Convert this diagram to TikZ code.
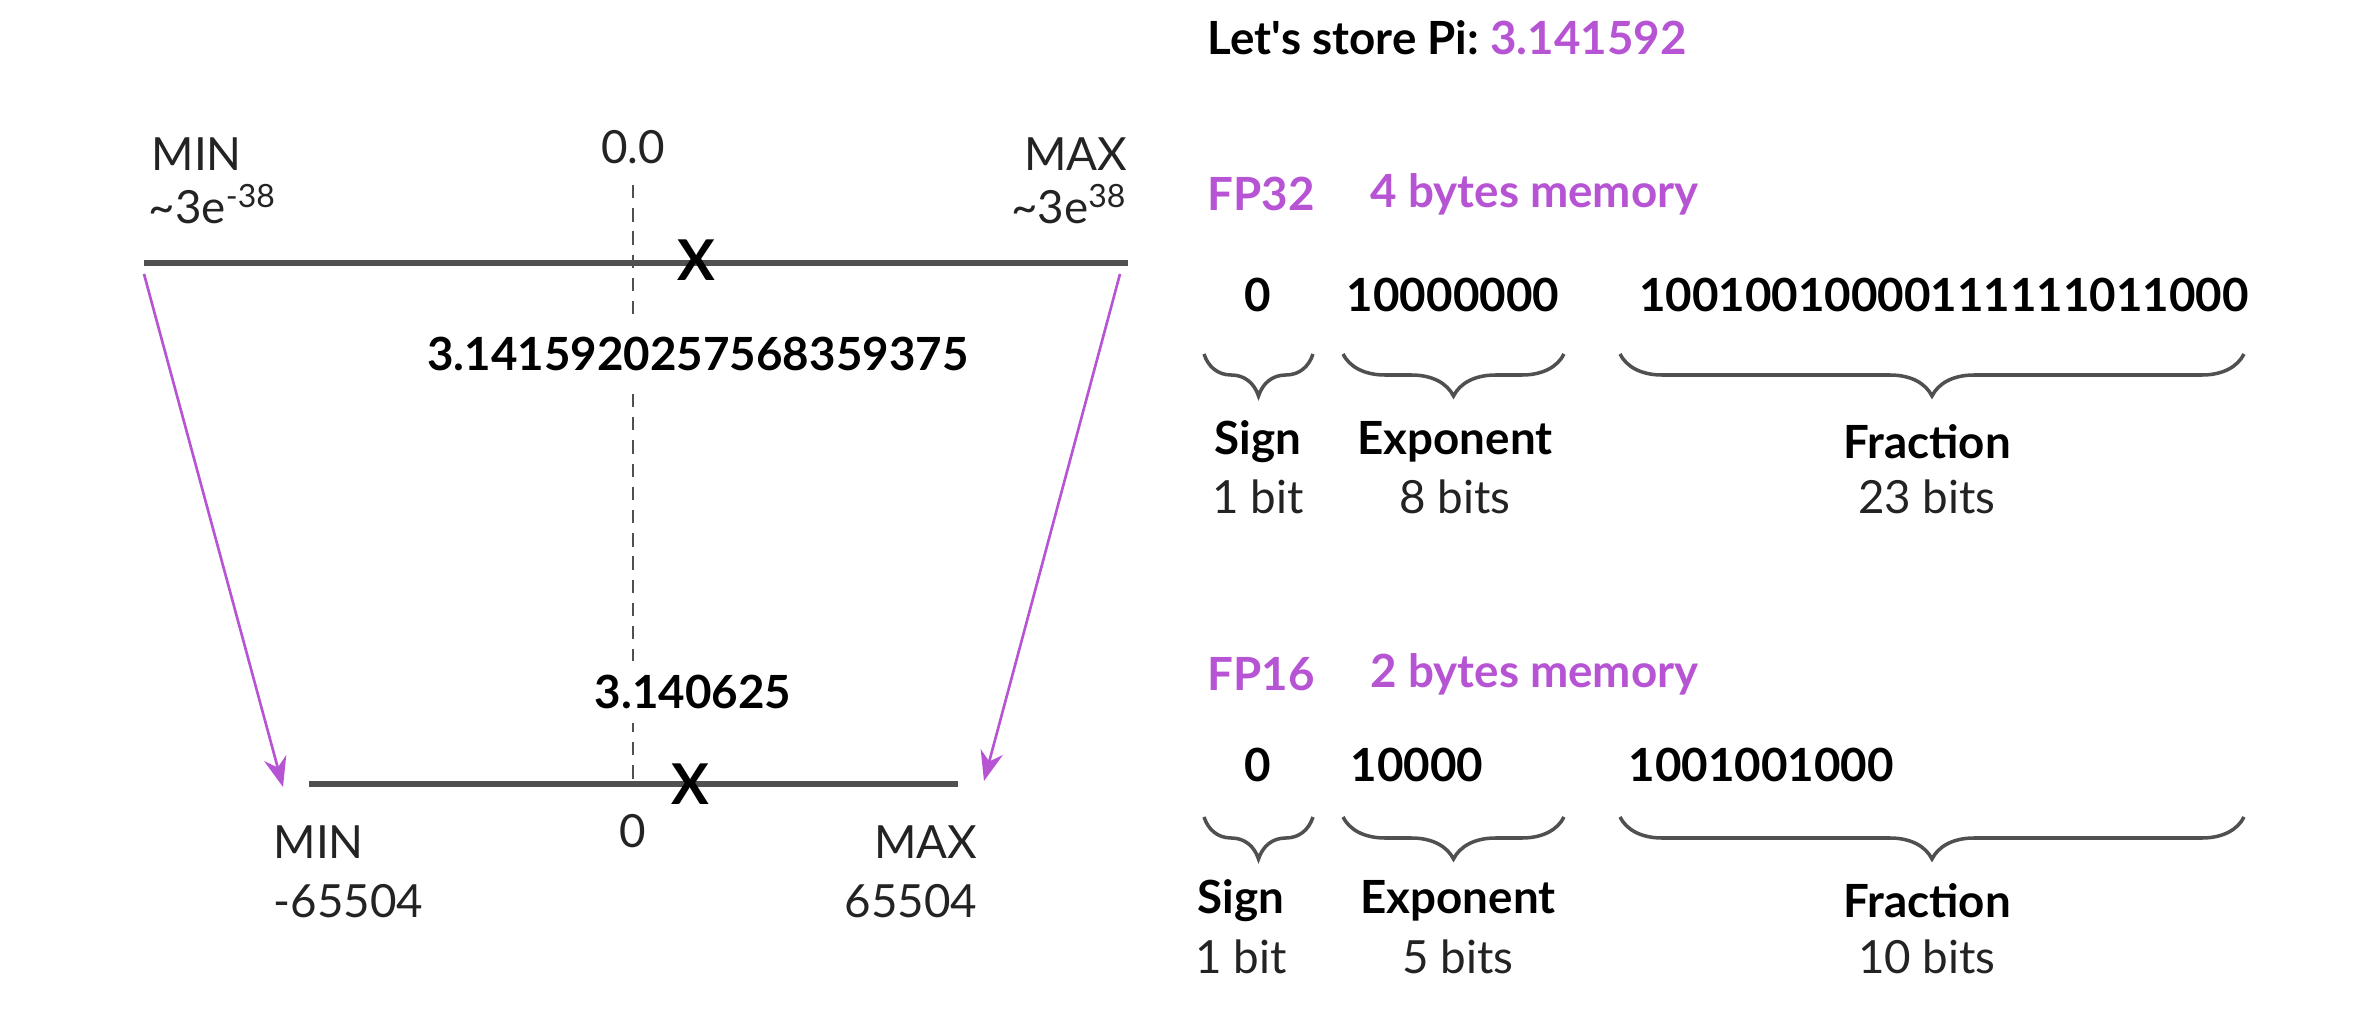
\documentclass[tikz,border=0pt]{standalone}
\usepackage{fontspec}
\setmainfont{Lato}
\usetikzlibrary{arrows.meta,decorations.pathreplacing}
\definecolor{pur}{RGB}{182,84,212}
\definecolor{axisgray}{RGB}{80,80,80}
\definecolor{txtgray}{RGB}{35,35,35}
\begin{document}
\frenchspacing
\begin{tikzpicture}[x=0.01cm,y=-0.01cm,
  txt/.style={inner sep=0pt, text=txtgray, font=\fontsize{13}{15}\selectfont},
  btxt/.style={inner sep=0pt, text=black, font=\fontsize{13}{15}\selectfont\bfseries},
  ptxt/.style={inner sep=0pt, text=pur, font=\fontsize{13}{15}\selectfont\bfseries},
  xmark/.style={inner sep=0pt, text=black, font=\fontsize{16}{18}\selectfont\bfseries},
  numline/.style={draw=axisgray, line width=1.6pt},
  zeroline/.style={draw=axisgray, line width=0.8pt, dash pattern=on 3.8pt off 2.8pt},
  parrow/.style={draw=pur, line width=0.75pt, -{Stealth[length=8.5pt,width=6.5pt]}},
  brc/.style={draw=axisgray, line width=1pt, decorate, decoration={brace, mirror, amplitude=4.2mm}}
]
\useasboundingbox (0,0) rectangle (2374,1034);
\fill[white] (0,0) rectangle (2374,1034);

% ---------- left: number lines ----------
\coordinate (d0) at (633,185);
\coordinate (d1) at (633,784);
\draw[zeroline] (d0) -- (d1);

\coordinate (tl) at (144,263);
\coordinate (tr) at (1128,263);
\draw[numline] (tl) -- (tr);

\coordinate (bl) at (309,784);
\coordinate (br) at (958,784);
\draw[numline] (bl) -- (br);

\coordinate (al0) at (144,274);
\coordinate (al1) at (283,787);
\draw[parrow] (al0) -- (al1);
\coordinate (ar0) at (1120,274);
\coordinate (ar1) at (984,781);
\draw[parrow] (ar0) -- (ar1);

\node[txt, anchor=west] (minT) at (151,154) {MIN};
\node[txt, anchor=west] (minTv) at (148,204) {\textasciitilde3e\textsuperscript{-38}};
\node[txt] (zeroT) at (633,147) {0.0};
\node[txt, anchor=east] (maxT) at (1128,154) {MAX};
\node[txt, anchor=east] (maxTv) at (1128,204) {\textasciitilde3e\textsuperscript{38}};

\node[xmark] (xT) at (696,260) {X};
\node[btxt, fill=white, inner sep=4pt] (v32) at (698,354) {3.1415920257568359375};
\node[btxt, fill=white, inner sep=4pt] (v16) at (693,692) {3.140625};
\node[xmark] (xB) at (690,784) {X};

\node[txt] (zeroB) at (633,831) {0};
\node[txt, anchor=west] (minB) at (273,842) {MIN};
\node[txt, anchor=west] (minBv) at (273,901) {-65504};
\node[txt, anchor=east] (maxB) at (978,842) {MAX};
\node[txt, anchor=east] (maxBv) at (978,901) {65504};

% ---------- right: bit layouts ----------
\node[btxt, anchor=west] (title) at (1207,38) {Let\textquotesingle s store Pi: \textcolor{pur}{3.141592}};

\node[ptxt, anchor=west] (fp32) at (1207,194) {FP32};
\node[ptxt, anchor=west] (fp32m) at (1370,194) {4 bytes memory};

\node[btxt] (s32) at (1258,295) {0};
\node[btxt] (e32) at (1453,295) {10000000};
\node[btxt] (f32) at (1944,295) {10010010000111111011000};

\draw[brc] (1204,354) -- (1313,354);
\draw[brc] (1343,354) -- (1564,354);
\draw[brc] (1620,354) -- (2244,354);

\node[btxt] (sl32) at (1258,442) {Sign};
\node[txt] (sb32) at (1258,497) {1 bit};
\node[btxt] (el32) at (1455,442) {Exponent};
\node[txt] (eb32) at (1455,497) {8 bits};
\node[btxt] (fl32) at (1927,442) {Fraction};
\node[txt] (fb32) at (1927,497) {23 bits};

\node[ptxt, anchor=west] (fp16) at (1207,674) {FP16};
\node[ptxt, anchor=west] (fp16m) at (1370,674) {2 bytes memory};

\node[btxt] (s16) at (1258,765) {0};
\node[btxt, anchor=west] (e16) at (1350,765) {10000};
\node[btxt, anchor=west] (f16) at (1628,765) {1001001000};

\draw[brc] (1204,817) -- (1313,817);
\draw[brc] (1343,817) -- (1564,817);
\draw[brc] (1620,817) -- (2244,817);

\node[btxt] (sl16) at (1241,901) {Sign};
\node[txt] (sb16) at (1241,957) {1 bit};
\node[btxt] (el16) at (1458,901) {Exponent};
\node[txt] (eb16) at (1458,957) {5 bits};
\node[btxt] (fl16) at (1927,901) {Fraction};
\node[txt] (fb16) at (1927,957) {10 bits};
\end{tikzpicture}
\end{document}
